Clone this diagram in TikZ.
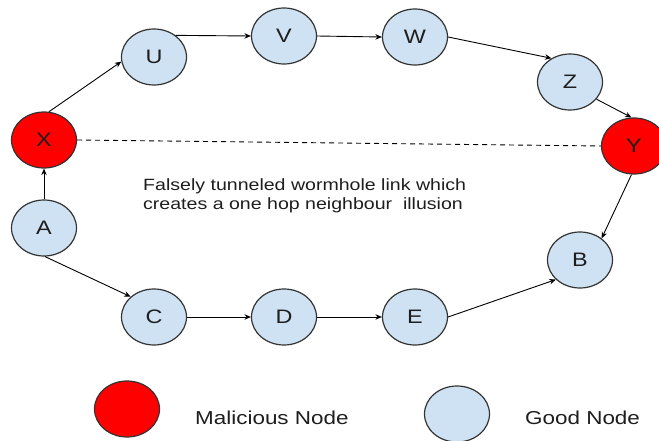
\documentclass[tikz,border=0pt]{standalone}
\usepackage{fontspec}
\setmainfont{Liberation Sans}[FakeStretch=1.2]
\usetikzlibrary{arrows.meta,shapes.geometric}
\definecolor{goodfill}{HTML}{CFE2F3}
\definecolor{badfill}{HTML}{FF0000}
\definecolor{rim}{HTML}{333333}
\definecolor{ink}{HTML}{1E1E1E}
\tikzset{
  peer/.style={ellipse, draw=rim, line width=1.2pt, minimum width=65pt,
    minimum height=56pt, inner sep=0pt, text=ink,
    font=\fontsize{19.5}{21}\selectfont},
  good/.style={peer, fill=goodfill},
  bad/.style={peer, fill=badfill},
  link/.style={line width=0.9pt, -{Stealth[length=6.5pt,width=5.5pt]}},
  tunnel/.style={line width=0.9pt, dashed, dash pattern=on 5pt off 4pt},
  caption/.style={anchor=base west, inner sep=0pt, text=ink},
}
\begin{document}
\begin{tikzpicture}[x=1pt, y=-1pt]
  \useasboundingbox (0,0) rectangle (659,441);
  \clip (0,0) rectangle (659,441);
  \fill[white] (0,0) rectangle (659,441);

  % network nodes
  \node[good] (U) at (154,57)  {U};
  \node[good] (V) at (284,36)  {V};
  \node[good] (W) at (415,37)  {W};
  \node[good] (Z) at (570,82)  {Z};
  \node[bad]  (X) at (44,140)  {X};
  \node[bad]  (Y) at (634,146) {Y};
  \node[good] (A) at (44,228)  {A};
  \node[good] (B) at (580,260) {B};
  \node[good] (C) at (154,317) {C};
  \node[good] (D) at (284,317) {D};
  \node[good] (E) at (415,317) {E};

  % upper route
  \draw[link] (A.north) -- (X.south);
  \draw[link] (X.80) -- (U.188);
  \draw[link] (U.45) -- (V.west);
  \draw[link] (V.east) -- (W.west);
  \draw[link] (W.east) -- (Z.128);
  \draw[link] (Z.-33) -- (Y.95);
  \draw[link] (Y.265) -- (B.45);

  % lower route
  \draw[link] (A.-88) -- (C.139);
  \draw[link] (C.east) -- (D.west);
  \draw[link] (D.east) -- (E.west);
  \draw[link] (E.east) -- (B.219);

  % wormhole tunnel
  \draw[tunnel] (X.east) -- (Y.west);
  \node[caption, font=\fontsize{16.3}{20}\selectfont] (note1) at (143,190)
    {Falsely tunneled wormhole link which};
  \node[caption, font=\fontsize{16.3}{20}\selectfont] (note2) at (143,209)
    {creates a one hop neighbour\ \ illusion};

  % legend
  \node[bad]  (keybad)  at (127,409) {};
  \node[caption, font=\fontsize{18.7}{22}\selectfont] (keybadtext) at (195,424) {Malicious Node};
  \node[good] (keygood) at (457,414) {};
  \node[caption, font=\fontsize{18.7}{22}\selectfont] (keygoodtext) at (525,424) {Good Node};
\end{tikzpicture}
\end{document}
